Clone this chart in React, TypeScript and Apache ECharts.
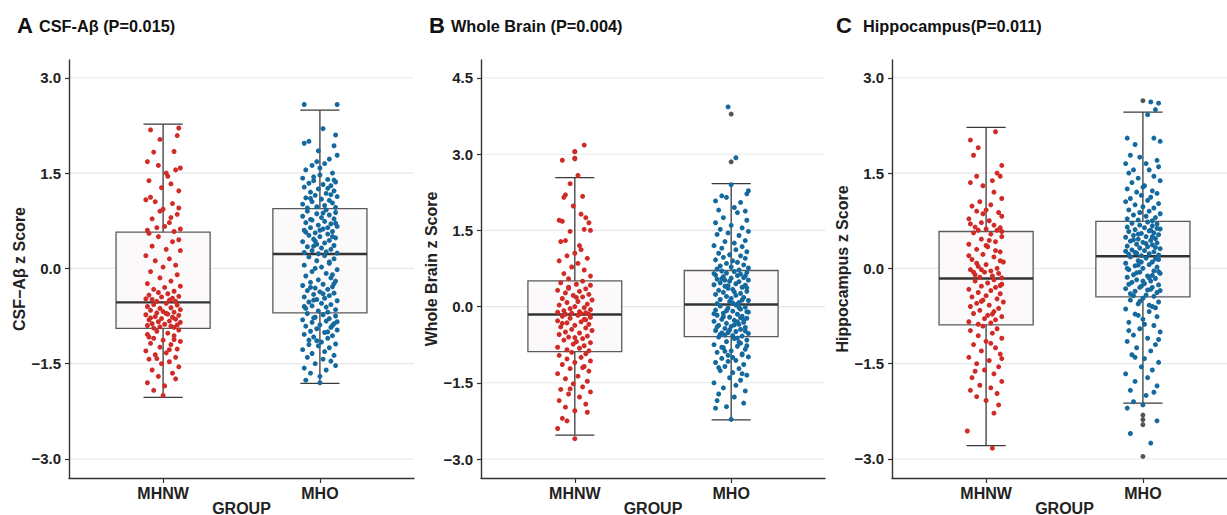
import React, { useEffect, useRef } from 'react';
import * as echarts from 'echarts';

// ---------- categories & ticks ----------
const groups = ['MHNW', 'MHO'];
const yTicksAC = [-3, -1.5, 0, 1.5, 3];
const yTicksB = [-3, -1.5, 0, 1.5, 3, 4.5];

// ---------- box statistics [low whisker, Q1, median, Q3, high whisker] ----------
const boxCsf = [[-2.03, -0.945, -0.535, 0.57, 2.27], [-1.81, -0.70, 0.227, 0.94, 2.49]];
const boxWb = [[-2.53, -0.886, -0.157, 0.505, 2.54], [-2.23, -0.59, 0.04, 0.71, 2.42]];
const boxHip = [[-2.79, -0.89, -0.16, 0.58, 2.22], [-2.12, -0.45, 0.19, 0.74, 2.46]];

// ---------- boxplot outliers (drawn in black at the group centre) ----------
const csfOut = [[], []];
const wbOut = [[3.05, 2.91], [3.79, 2.85]];
const hipOut = [[], [2.64, -2.31, -2.38, -2.46, -2.96]];

// ---------- jittered points [x jitter, z score] ----------
const csfMHNW = [
  [-0.08,2.18],[0.1,2.21],[-0.02,2.03],[0.09,2.09],[-0.06,1.83],[0.07,1.84],[-0.1,1.68],[-0.03,1.62],[0.11,1.58],[0.08,1.55],[0.02,1.5],[-0.09,1.38],[0.05,1.33],[-0.01,1.27],[0.1,1.22],[-0.11,1.08],[-0.05,1.05],[0.06,1.02],[0.0,0.93],[-0.02,0.9],[0.09,0.85],[-0.07,0.78],[0.04,0.72],[0.01,0.66],[-0.1,0.6],[0.11,0.62],[0.07,0.58],[-0.04,0.64],[0.03,1.45],[-0.08,1.12],[0.1,0.95],[0.05,0.8],
  [-0.09,0.55],[0.1,0.45],[-0.03,0.5],[0.06,0.42],[-0.07,0.35],[0.02,0.3],[0.11,0.28],[-0.11,0.2],[0.04,0.15],[-0.05,0.12],[0.08,0.05],[0.0,0.02],[-0.08,-0.05],[0.09,-0.1],[-0.02,-0.15],[0.05,-0.2],[-0.1,-0.24],[0.11,-0.28],[0.01,-0.3],[-0.06,-0.33],[0.07,-0.36],[-0.03,-0.38],[0.03,-0.4],[-0.09,-0.42],[0.1,-0.44],[-0.01,-0.45],[0.06,-0.47],[-0.07,-0.49],[0.04,-0.5],[-0.04,-0.52],[0.08,-0.52],[-0.11,-0.48],
  [0.02,-0.55],[-0.06,-0.57],[0.09,-0.58],[-0.1,-0.6],[0.05,-0.62],[-0.02,-0.63],[0.11,-0.65],[-0.08,-0.66],[0.0,-0.68],[0.07,-0.69],[-0.04,-0.7],[0.03,-0.72],[-0.11,-0.73],[0.1,-0.74],[-0.05,-0.76],[0.06,-0.77],[-0.01,-0.79],[0.08,-0.8],[-0.09,-0.81],[0.04,-0.83],[-0.03,-0.84],[0.11,-0.85],[-0.07,-0.87],[0.01,-0.88],[0.09,-0.89],[-0.1,-0.9],[0.05,-0.91],[-0.02,-0.92],[0.07,-0.93],[-0.06,-0.94],[0.02,-0.71],[-0.08,-0.78],
  [0.1,-0.97],[-0.04,-0.99],[0.03,-1.02],[-0.1,-1.04],[0.07,-1.06],[-0.06,-1.1],[0.0,-1.13],[0.11,-1.15],[-0.08,-1.18],[0.05,-1.2],[-0.02,-1.24],[0.09,-1.27],[-0.11,-1.3],[0.02,-1.33],[-0.05,-1.36],[0.08,-1.4],[-0.09,-1.43],[0.04,-1.47],[-0.01,-1.5],[0.1,-1.55],[-0.07,-1.6],[0.06,-1.65],[-0.03,-1.7],[0.08,-1.74],[-0.1,-1.8],[0.01,-1.85],[-0.06,-1.92],[0.0,-2.0],[0.07,-1.12],[-0.09,-1.08],[0.04,-1.28],[-0.04,-1.42],
];
const csfMHO = [
  [-0.1,2.58],[0.11,2.58],[-0.07,2.0],[-0.1,1.97],[0.1,2.1],[0.09,1.93],[0.11,1.78],[0.06,1.72],[-0.02,1.68],[0.03,1.65],[-0.05,1.62],[-0.09,1.55],[0.08,1.5],[0.0,1.47],[-0.11,1.42],[0.05,1.4],[-0.04,1.38],[0.1,1.36],[-0.07,1.34],[0.02,1.32],[0.07,1.3],[-0.1,1.28],[-0.01,1.25],[0.09,1.22],[-0.06,1.2],[0.04,1.18],[-0.03,1.15],[0.11,1.13],[-0.09,1.11],[0.01,1.09],[0.06,1.07],[-0.05,1.05],[0.08,1.03],[-0.11,1.01],[0.03,0.99],[-0.02,0.97],[0.1,0.96],[-0.08,0.95],[0.05,1.26],[-0.04,1.44],[0.0,1.58],[0.07,1.16],[-0.06,1.1],[0.02,2.2],[-0.01,1.85],[0.09,1.39],
  [0.04,0.92],[-0.08,0.9],[0.1,0.88],[-0.02,0.86],[0.06,0.84],[-0.11,0.82],[0.01,0.8],[0.09,0.78],[-0.05,0.76],[0.03,0.74],[-0.09,0.72],[0.07,0.7],[-0.01,0.68],[0.11,0.66],[-0.06,0.64],[0.02,0.62],[-0.1,0.6],[0.08,0.58],[-0.03,0.56],[0.05,0.54],[-0.07,0.52],[0.0,0.5],[0.1,0.48],[-0.04,0.46],[0.06,0.44],[-0.11,0.42],[0.03,0.4],[-0.02,0.38],[0.09,0.36],[-0.08,0.34],[0.01,0.32],[0.07,0.3],[-0.05,0.28],[0.04,0.26],[-0.1,0.25],[0.11,0.24],[-0.01,0.23],[0.05,0.64],[-0.06,0.77],[0.08,0.5],[-0.03,0.43],[0.02,0.87],[-0.09,0.57],[0.1,0.71],[-0.04,0.35],[0.0,0.6],
  [0.03,0.2],[-0.07,0.18],[0.09,0.15],[-0.02,0.12],[0.06,0.08],[-0.1,0.05],[0.01,0.02],[0.11,-0.02],[-0.05,-0.05],[0.04,-0.08],[-0.09,-0.12],[0.07,-0.15],[-0.01,-0.18],[0.1,-0.2],[-0.06,-0.22],[0.02,-0.25],[-0.11,-0.27],[0.08,-0.29],[-0.03,-0.31],[0.05,-0.33],[-0.08,-0.35],[0.0,-0.37],[0.09,-0.39],[-0.04,-0.41],[0.06,-0.43],[-0.1,-0.45],[0.03,-0.47],[-0.02,-0.49],[0.11,-0.51],[-0.07,-0.53],[0.01,-0.55],[0.07,-0.57],[-0.05,-0.59],[0.04,-0.61],[-0.09,-0.63],[0.1,-0.65],[-0.01,-0.67],[0.05,-0.69],[-0.06,-0.3],[0.08,-0.1],[-0.03,0.0],[0.02,-0.4],[-0.1,-0.6],[0.09,-0.24],[-0.04,-0.5],[0.06,0.1],
  [-0.08,-0.71],[0.02,-0.73],[0.1,-0.75],[-0.03,-0.77],[0.06,-0.79],[-0.11,-0.81],[0.04,-0.83],[-0.05,-0.85],[0.09,-0.87],[0.0,-0.89],[-0.09,-0.91],[0.07,-0.93],[-0.02,-0.95],[0.11,-0.97],[-0.06,-0.99],[0.03,-1.01],[-0.1,-1.04],[0.08,-1.06],[-0.04,-1.08],[0.05,-1.1],[-0.07,-1.13],[0.01,-1.16],[0.1,-1.19],[-0.01,-1.22],[0.06,-1.25],[-0.11,-1.28],[0.03,-1.31],[-0.05,-1.34],[0.09,-1.37],[-0.08,-1.4],[0.02,-1.43],[0.07,-1.46],[-0.03,-1.5],[0.1,-1.53],[-0.1,-1.57],[0.04,-1.6],[-0.06,-1.65],[0.0,-1.7],[-0.09,-1.76],[0.0,-1.8],[0.08,-0.9],[-0.04,-0.78],[0.05,-1.0],[-0.07,-1.2],[0.11,-0.84],[-0.02,-1.14],
];
const wbMHNW = [
  [0.06,3.18],[-0.08,2.88],[0.0,3.05],[0.0,2.92],[0.02,2.58],[-0.03,2.42],[-0.06,2.2],[-0.07,2.15],[0.05,2.17],[-0.01,1.98],[0.04,1.82],[0.07,1.75],[-0.08,1.68],[-0.1,1.7],[0.09,1.65],[0.1,1.5],[-0.03,1.48],[0.06,1.52],[-0.06,1.3],[-0.09,1.28],[0.03,1.2],[0.0,1.05],[-0.05,1.0],[0.08,0.95],[-0.1,0.9],[0.02,0.85],[-0.02,0.78],[0.06,0.72],[-0.07,0.65],[0.1,0.6],[-0.04,0.55],[0.04,1.12],
  [0.05,0.5],[-0.09,0.47],[0.01,0.44],[0.1,0.42],[-0.04,0.38],[0.07,0.35],[-0.11,0.32],[0.03,0.3],[-0.06,0.27],[0.09,0.24],[-0.01,0.22],[0.05,0.19],[-0.08,0.16],[0.11,0.13],[0.02,0.1],[-0.05,0.08],[0.08,0.05],[-0.1,0.03],[0.0,0.0],[0.06,-0.02],[-0.03,-0.04],[0.1,-0.06],[-0.07,-0.08],[0.03,-0.1],[-0.11,-0.11],[0.07,-0.12],[-0.02,-0.13],[0.04,-0.14],[-0.06,-0.15],[0.09,-0.15],[-0.04,0.36],[0.01,0.18],
  [0.02,-0.17],[-0.08,-0.19],[0.1,-0.21],[-0.03,-0.23],[0.06,-0.25],[-0.11,-0.28],[0.04,-0.3],[-0.05,-0.32],[0.09,-0.35],[0.0,-0.37],[-0.09,-0.4],[0.07,-0.42],[-0.02,-0.45],[0.11,-0.47],[-0.06,-0.5],[0.03,-0.52],[-0.1,-0.55],[0.08,-0.58],[-0.04,-0.6],[0.05,-0.63],[-0.07,-0.66],[0.01,-0.69],[0.1,-0.71],[-0.01,-0.74],[0.06,-0.77],[-0.11,-0.8],[0.03,-0.82],[-0.05,-0.85],[0.09,-0.87],[-0.08,-0.33],[0.0,-0.61],[0.07,-0.26],
  [-0.02,-0.9],[0.07,-0.93],[-0.1,-0.96],[0.04,-1.0],[-0.05,-1.03],[0.1,-1.07],[0.0,-1.1],[-0.08,-1.14],[0.06,-1.18],[-0.03,-1.22],[0.09,-1.27],[-0.11,-1.32],[0.02,-1.37],[-0.06,-1.42],[0.08,-1.47],[-0.01,-1.52],[0.05,-1.58],[-0.09,-1.63],[0.1,-1.68],[-0.04,-1.72],[0.03,-1.78],[-0.1,-1.85],[0.07,-1.92],[-0.06,-1.98],[0.0,-2.05],[0.08,-2.08],[-0.08,-2.2],[-0.05,-2.25],[-0.11,-2.4],[0.0,-2.6],[0.05,-1.2],[-0.03,-1.62],
];
const wbMHO = [
  [-0.02,3.93],[0.03,2.93],[0.0,2.4],[0.11,2.28],[0.1,2.22],[-0.06,2.18],[-0.1,2.08],[-0.03,2.15],[0.06,2.05],[0.02,1.95],[-0.08,1.9],[0.09,1.88],[0.04,1.85],[-0.05,1.75],[0.1,1.7],[-0.1,1.65],[0.0,1.6],[0.07,1.55],[-0.07,1.52],[0.11,1.48],[-0.02,1.45],[-0.09,1.42],[0.05,1.4],[0.09,1.3],[-0.04,1.28],[0.02,1.25],[-0.11,1.2],[0.07,1.18],[-0.06,1.15],[0.03,1.12],[0.1,1.08],[-0.08,1.05],[-0.01,1.02],[0.06,1.0],[-0.05,0.97],[0.09,0.95],[-0.1,0.92],[0.01,0.9],[0.04,0.87],[-0.03,0.85],[0.08,0.82],[-0.07,0.8],[0.0,0.78],[0.11,0.76],[-0.09,0.74],[0.05,0.72],
  [-0.06,0.7],[0.02,0.69],[0.1,0.67],[-0.03,0.66],[0.06,0.64],[-0.1,0.62],[0.04,0.61],[-0.05,0.59],[0.08,0.57],[0.0,0.56],[-0.09,0.54],[0.11,0.52],[-0.01,0.5],[0.05,0.49],[-0.07,0.47],[0.03,0.45],[-0.11,0.43],[0.09,0.42],[-0.04,0.4],[0.07,0.38],[-0.02,0.36],[0.01,0.34],[-0.08,0.32],[0.1,0.3],[-0.05,0.28],[0.06,0.26],[-0.1,0.24],[0.03,0.22],[-0.03,0.2],[0.08,0.18],[0.0,0.16],[-0.07,0.14],[0.11,0.12],[-0.01,0.1],[0.05,0.08],[-0.09,0.06],[0.04,0.05],[-0.06,0.55],[0.09,0.6],[-0.02,0.41],[0.02,0.29],[-0.11,0.65],[0.07,0.13],[-0.04,0.52],[0.1,0.37],[0.01,0.07],
  [0.03,0.03],[-0.07,0.01],[0.09,-0.01],[-0.02,-0.03],[0.06,-0.05],[-0.1,-0.07],[0.01,-0.09],[0.11,-0.11],[-0.05,-0.13],[0.04,-0.15],[-0.09,-0.17],[0.07,-0.19],[-0.01,-0.21],[0.1,-0.23],[-0.06,-0.25],[0.02,-0.27],[-0.11,-0.29],[0.08,-0.31],[-0.03,-0.33],[0.05,-0.35],[-0.08,-0.37],[0.0,-0.39],[0.09,-0.41],[-0.04,-0.43],[0.06,-0.45],[-0.1,-0.47],[0.03,-0.49],[-0.02,-0.51],[0.11,-0.53],[-0.07,-0.55],[0.01,-0.57],[0.07,-0.58],[-0.05,-0.2],[0.04,-0.3],[-0.09,-0.4],[0.1,-0.1],[-0.01,-0.46],[0.05,-0.02],[-0.06,-0.52],[0.08,-0.26],[-0.03,-0.08],[0.02,-0.36],[-0.11,-0.14],[0.09,-0.48],[-0.04,-0.56],[0.06,-0.22],
  [-0.08,-0.6],[0.02,-0.63],[0.1,-0.66],[-0.03,-0.69],[0.06,-0.72],[-0.11,-0.75],[0.04,-0.78],[-0.05,-0.81],[0.09,-0.84],[0.0,-0.87],[-0.09,-0.9],[0.07,-0.93],[-0.02,-0.96],[0.11,-0.99],[-0.06,-1.02],[0.03,-1.06],[-0.1,-1.1],[0.08,-1.14],[-0.04,-1.18],[0.05,-1.22],[-0.07,-1.26],[0.01,-1.3],[0.1,-1.35],[-0.01,-1.4],[0.06,-1.45],[-0.11,-1.5],[0.03,-1.55],[-0.05,-1.6],[0.09,-1.66],[-0.08,-1.72],[0.02,-1.78],[-0.09,-1.85],[0.08,-1.9],[-0.03,-1.97],[-0.1,-2.0],[0.0,-2.22],[0.05,-0.7],[-0.06,-0.8],[0.07,-0.95],[-0.02,-1.08],[0.04,-0.62],[-0.08,-1.2],[0.1,-0.77],[-0.04,-0.88],[0.01,-1.0],[0.07,-1.32],
];
const hipMHNW = [
  [0.06,2.15],[-0.1,2.02],[-0.05,1.9],[-0.08,1.78],[0.1,1.62],[0.07,1.5],[0.09,1.45],[-0.06,1.45],[-0.1,1.35],[-0.02,1.3],[0.05,1.2],[0.1,1.1],[-0.04,1.05],[0.03,1.0],[-0.09,0.98],[0.0,0.92],[-0.06,0.9],[0.08,0.88],[0.1,0.82],[-0.11,0.78],[0.02,0.75],[-0.03,0.72],[-0.1,0.7],[0.05,0.68],[-0.07,0.65],[0.09,0.64],[0.0,0.62],[-0.05,0.6],[0.07,0.6],[0.1,0.58],[-0.02,0.86],[0.04,1.38],
  [-0.08,0.56],[0.03,0.54],[0.1,0.5],[-0.03,0.46],[0.06,0.42],[-0.11,0.38],[0.01,0.34],[-0.06,0.3],[0.09,0.26],[-0.02,0.22],[0.05,0.18],[-0.09,0.14],[0.11,0.1],[0.0,0.06],[-0.05,0.03],[0.07,0.0],[-0.1,-0.02],[0.03,-0.04],[-0.01,-0.06],[0.08,-0.08],[-0.07,-0.1],[0.04,-0.12],[-0.04,-0.14],[0.1,-0.15],[-0.11,0.2],[0.02,0.44],[-0.06,0.08],[0.06,0.28],[-0.03,-0.02],[0.09,0.12],[0.0,0.36],[-0.08,-0.06],
  [0.05,-0.18],[-0.07,-0.2],[0.01,-0.23],[0.1,-0.25],[-0.03,-0.28],[0.06,-0.3],[-0.11,-0.33],[0.03,-0.35],[-0.05,-0.38],[0.09,-0.4],[0.0,-0.43],[-0.09,-0.45],[0.07,-0.48],[-0.02,-0.5],[0.11,-0.53],[-0.06,-0.55],[0.02,-0.58],[-0.1,-0.6],[0.08,-0.63],[-0.04,-0.66],[0.05,-0.68],[-0.08,-0.71],[0.01,-0.74],[0.1,-0.76],[-0.01,-0.79],[0.06,-0.81],[-0.11,-0.84],[0.03,-0.86],[-0.05,-0.88],[0.09,-0.27],[-0.03,-0.52],[0.04,-0.72],
  [-0.02,-0.91],[0.07,-0.95],[-0.1,-0.98],[0.04,-1.02],[-0.05,-1.06],[0.1,-1.1],[0.0,-1.15],[-0.08,-1.2],[0.06,-1.25],[-0.03,-1.3],[0.09,-1.35],[-0.11,-1.4],[0.02,-1.45],[-0.06,-1.5],[0.08,-1.55],[-0.01,-1.6],[0.05,-1.66],[-0.09,-1.72],[0.1,-1.78],[-0.04,-1.84],[0.03,-1.88],[-0.1,-1.92],[0.07,-1.97],[-0.06,-2.02],[0.0,-2.08],[0.08,-2.15],[0.05,-2.28],[-0.12,-2.56],[0.04,-2.83],[0.03,-1.18],[-0.07,-1.62],[0.1,-1.42],
];
const hipMHO = [
  [0.05,2.62],[0.1,2.6],[0.08,2.5],[0.03,2.42],[-0.1,2.05],[0.07,2.05],[-0.05,1.95],[0.11,2.0],[-0.08,1.78],[-0.02,1.75],[0.09,1.7],[-0.11,1.65],[0.02,1.65],[0.1,1.6],[-0.06,1.55],[0.04,1.55],[-0.09,1.5],[0.07,1.45],[-0.03,1.42],[0.11,1.38],[-0.07,1.35],[0.01,1.3],[-0.1,1.25],[0.06,1.22],[-0.04,1.2],[0.09,1.18],[-0.01,1.15],[0.05,1.12],[-0.08,1.1],[0.03,1.07],[-0.11,1.05],[0.1,1.02],[-0.05,1.0],[0.0,0.97],[0.07,0.95],[-0.09,0.92],[0.04,0.9],[-0.02,0.88],[0.11,0.86],[-0.06,0.84],[0.02,0.82],[0.08,0.8],[-0.1,0.78],[-0.03,0.76],[0.06,0.75],[0.0,1.28],
  [0.03,0.73],[-0.07,0.71],[0.09,0.7],[-0.02,0.68],[0.06,0.67],[-0.1,0.65],[0.01,0.64],[0.11,0.62],[-0.05,0.61],[0.04,0.59],[-0.09,0.58],[0.07,0.56],[-0.01,0.55],[0.1,0.53],[-0.06,0.52],[0.02,0.5],[-0.11,0.49],[0.08,0.47],[-0.03,0.46],[0.05,0.44],[-0.08,0.43],[0.0,0.41],[0.09,0.4],[-0.04,0.38],[0.06,0.37],[-0.1,0.35],[0.03,0.34],[-0.02,0.32],[0.11,0.31],[-0.07,0.29],[0.01,0.28],[0.07,0.26],[-0.05,0.25],[0.04,0.23],[-0.09,0.22],[0.1,0.21],[-0.01,0.2],[0.05,0.6],[-0.06,0.45],[0.08,0.33],[-0.03,0.54],[0.02,0.39],[-0.11,0.27],[0.09,0.63],[-0.04,0.24],[0.06,0.5],
  [-0.08,0.18],[0.02,0.16],[0.1,0.14],[-0.03,0.12],[0.06,0.1],[-0.11,0.08],[0.04,0.06],[-0.05,0.04],[0.09,0.02],[0.0,0.0],[-0.09,-0.02],[0.07,-0.04],[-0.02,-0.06],[0.11,-0.08],[-0.06,-0.1],[0.03,-0.12],[-0.1,-0.14],[0.08,-0.16],[-0.04,-0.18],[0.05,-0.2],[-0.07,-0.22],[0.01,-0.24],[0.1,-0.26],[-0.01,-0.28],[0.06,-0.3],[-0.11,-0.32],[0.03,-0.34],[-0.05,-0.36],[0.09,-0.38],[-0.08,-0.4],[0.02,-0.42],[0.07,-0.44],[-0.03,0.05],[0.04,-0.15],[-0.09,-0.25],[0.1,-0.05],[-0.01,0.1],[0.05,-0.33],[-0.06,-0.43],[0.08,0.15],[-0.04,-0.07],[0.0,-0.2],[-0.1,0.0],[0.11,-0.35],[-0.02,-0.3],[0.06,-0.11],
  [0.0,-0.47],[-0.08,-0.5],[0.1,-0.53],[-0.03,-0.56],[0.06,-0.6],[-0.11,-0.64],[0.04,-0.68],[-0.05,-0.72],[0.09,-0.76],[0.0,-0.8],[-0.09,-0.85],[0.07,-0.9],[-0.02,-0.95],[0.11,-1.0],[-0.06,-1.05],[0.03,-1.1],[-0.1,-1.15],[0.08,-1.2],[-0.04,-1.25],[0.05,-1.3],[-0.07,-1.36],[0.01,-1.42],[0.1,-1.48],[-0.01,-1.55],[0.06,-1.6],[-0.11,-1.66],[0.03,-1.72],[-0.05,-1.78],[0.09,-1.85],[-0.08,-1.92],[0.02,-2.0],[0.07,-1.95],[-0.1,-2.2],[-0.06,-2.1],[0.0,-2.15],[0.09,-2.4],[-0.08,-2.6],[0.05,-2.75],[0.04,-0.58],[-0.03,-0.74],[0.08,-0.62],[-0.09,-0.98],[0.01,-0.88],[-0.05,-1.4],[0.1,-1.12],[-0.02,-0.52],
];

// ---------- styling ----------
const RED = '#D02B26';
const BLUE = '#146A9E';
const FONT = "'Liberation Sans', Arial, Helvetica, sans-serif";
const W = 1227;

const panels = [
  { letter: 'A', title: 'CSF-Aβ (P=0.015)', yName: 'CSF\u2212Aβ z Score', ticks: yTicksAC, min: -3.3, max: 3.28,
    box: boxCsf, pts: [csfMHNW, csfMHO], out: csfOut, left: 69, rightEdge: 414, letterX: 17, titleX: 39 },
  { letter: 'B', title: 'Whole Brain (P=0.004)', yName: 'Whole Brain z Score', ticks: yTicksB, min: -3.374, max: 4.854,
    box: boxWb, pts: [wbMHNW, wbMHO], out: wbOut, left: 481, rightEdge: 825, letterX: 429, titleX: 451 },
  { letter: 'C', title: 'Hippocampus(P=0.011)', yName: 'Hippocampus z Score', ticks: yTicksAC, min: -3.3, max: 3.28,
    box: boxHip, pts: [hipMHNW, hipMHO], out: hipOut, left: 892, rightEdge: 1237, letterX: 836, titleX: 863 },
];

const fmtTick = (v: number) => (v < 0 ? '\u2212' + Math.abs(v).toFixed(1) : v.toFixed(1));

function buildOption() {
  const grid: any[] = [];
  const xAxis: any[] = [];
  const yAxis: any[] = [];
  const series: any[] = [];
  const graphic: any[] = [];

  panels.forEach((p, i) => {
    grid.push({ left: p.left, right: W - p.rightEdge, top: 60, bottom: 37, containLabel: false, outerBoundsMode: 'none' });
    xAxis.push({
      gridIndex: i, type: 'value', min: 0.4, max: 2.6,
      name: 'GROUP', nameLocation: 'middle', nameGap: 22, nameMoveOverlap: false,
      nameTextStyle: { fontWeight: 'bold', fontSize: 16, color: '#222', fontFamily: FONT },
      axisLine: { show: true, onZero: false, lineStyle: { color: '#333', width: 1.4 } },
      axisTick: { show: true, length: 5, customValues: [1, 2], lineStyle: { color: '#333', width: 1.2 } },
      axisLabel: { customValues: [1, 2], formatter: (v: number) => groups[Math.round(v) - 1] || '',
        fontWeight: 'bold', fontSize: 16, color: '#222', margin: 7, fontFamily: FONT },
      splitLine: { show: false },
    });
    yAxis.push({
      gridIndex: i, type: 'value', min: p.min, max: p.max,
      name: p.yName, nameLocation: 'middle', nameGap: 42,
      nameTextStyle: { fontWeight: 'bold', fontSize: 16, color: '#222', fontFamily: FONT },
      axisLine: { show: true, onZero: false, lineStyle: { color: '#333', width: 1.4 } },
      axisTick: { show: true, length: 4, customValues: p.ticks, lineStyle: { color: '#333', width: 1.2 } },
      axisLabel: { customValues: p.ticks, formatter: fmtTick, fontWeight: 'bold', fontSize: 15,
        color: '#222', margin: 8, fontFamily: FONT },
      splitLine: { show: false },
    });

    // horizontal grid lines at tick values
    series.push({
      type: 'custom', xAxisIndex: i, yAxisIndex: i, z: 0, silent: true,
      data: p.ticks.map((v) => [1, v]),
      renderItem: (params: any, api: any) => {
        const cs = params.coordSys;
        const y = api.coord([1, api.value(1)])[1];
        return { type: 'line', shape: { x1: cs.x, y1: y, x2: cs.x + cs.width, y2: y },
          style: { stroke: '#E8E8E8', lineWidth: 1.1 } };
      },
    });

    // boxplots with error-bar whiskers
    series.push({
      type: 'custom', xAxisIndex: i, yAxisIndex: i, z: 1, silent: true,
      data: p.box.map((b, k) => [k + 1, ...b]),
      renderItem: (params: any, api: any) => {
        const x = api.value(0);
        const c = (dx: number, v: number) => api.coord([x + dx, v]);
        const lo = c(0, api.value(1)), q1 = c(0, api.value(2)), md = c(0, api.value(3));
        const q3 = c(0, api.value(4)), hi = c(0, api.value(5));
        const bl = c(-0.3, 0)[0], br = c(0.3, 0)[0];
        const cl = c(-0.125, 0)[0], cr = c(0.125, 0)[0];
        const wStyle = { stroke: '#3A3A3A', lineWidth: 1.3 };
        return {
          type: 'group',
          children: [
            { type: 'line', shape: { x1: lo[0], y1: lo[1], x2: hi[0], y2: hi[1] }, style: wStyle },
            { type: 'line', shape: { x1: cl, y1: lo[1], x2: cr, y2: lo[1] }, style: wStyle },
            { type: 'line', shape: { x1: cl, y1: hi[1], x2: cr, y2: hi[1] }, style: wStyle },
            { type: 'rect', shape: { x: bl, y: q3[1], width: br - bl, height: q1[1] - q3[1] },
              style: { fill: '#FCF9FA', stroke: '#5A5A5A', lineWidth: 1.3 } },
            { type: 'line', shape: { x1: bl, y1: md[1], x2: br, y2: md[1] },
              style: { stroke: '#333', lineWidth: 2.4 } },
          ],
        };
      },
    });

    // boxplot outliers
    series.push({
      type: 'scatter', xAxisIndex: i, yAxisIndex: i, z: 2, silent: true,
      symbolSize: 5, itemStyle: { color: '#2B2B2B' },
      data: p.out.flatMap((arr, k) => arr.map((v) => [k + 1, v])),
    });

    // jittered points
    [RED, BLUE].forEach((col, k) => {
      series.push({
        type: 'scatter', xAxisIndex: i, yAxisIndex: i, z: 3, silent: true,
        symbolSize: 5, itemStyle: { color: col, opacity: 1 },
        data: p.pts[k].map((q) => [k + 1 + q[0], q[1]]),
      });
    });

    graphic.push({ type: 'text', x: p.letterX, y: 25,
      style: { text: p.letter, fontSize: 22, fontWeight: 'bold', fontFamily: FONT, fill: '#111', verticalAlign: 'middle' } });
    graphic.push({ type: 'text', x: p.titleX, y: 26,
      style: { text: p.title, fontSize: 16.3, fontWeight: 'bold', fontFamily: FONT, fill: '#111', verticalAlign: 'middle' } });
  });

  return { animation: false, backgroundColor: '#fff', grid, xAxis, yAxis, series, graphic };
}

export default function App() {
  const ref = useRef<HTMLDivElement>(null);
  useEffect(() => {
    if (!ref.current) return;
    const chart = echarts.init(ref.current, null, { renderer: 'svg' });
    chart.setOption(buildOption() as any);
    return () => chart.dispose();
  }, []);
  return <div ref={ref} style={{ position: 'absolute', left: 0, top: 0, width: W, height: 515 }} />;
}
